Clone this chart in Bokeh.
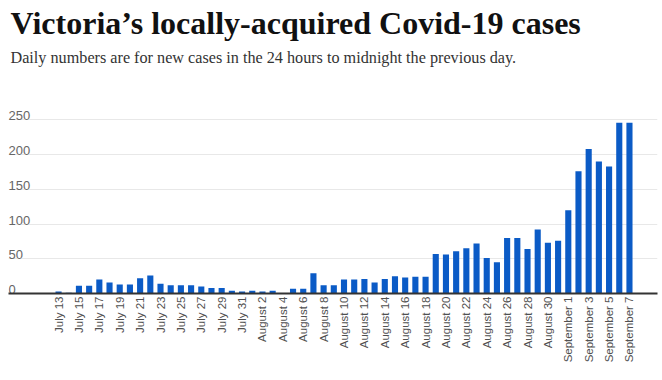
import math
from bokeh.plotting import figure
from bokeh.models import Range1d, Title, FixedTicker, ColumnDataSource
from bokeh.core.properties import value
from bokeh.embed import file_html
from bokeh.resources import INLINE

# ---- data ----
july_days = list(range(13, 32))
aug_days = list(range(1, 32))
sep_days = list(range(1, 8))
date_labels = ([f"July {d}" for d in july_days]
               + [f"August {d}" for d in aug_days]
               + [f"September {d}" for d in sep_days])
july_cases = [3, 1, 11, 11, 20, 16, 13, 13, 22, 26, 14, 12, 12, 12, 10, 8, 8, 4, 3]
aug_cases = [4, 3, 4, 0, 7, 7, 29, 12, 12, 20, 20, 21, 16, 21, 25, 23, 24, 24,
             57, 56, 61, 65, 72, 51, 45, 80, 80, 64, 92, 73, 76]
sep_cases = [120, 176, 208, 190, 183, 246, 246]
cases = july_cases + aug_cases + sep_cases
y_ticks = [0, 50, 100, 150, 200, 250]

idx = list(range(len(cases)))
src = ColumnDataSource(dict(x=idx, cases=cases, label=date_labels))

p = figure(width=662, height=380, output_backend="svg", toolbar_location=None,
           x_range=Range1d(-4.91, 58.75), y_range=Range1d(0, 322.5),
           y_axis_location=None, min_border_left=8, min_border_right=5,
           min_border_top=0, min_border_bottom=87, outline_line_color=None,
           title=None)

p.add_layout(Title(text="Daily numbers are for new cases in the 24 hours to midnight the previous day.",
                   text_font="Liberation Serif", text_font_size="16.2px", text_font_style="normal",
                   text_color="#333333", align="left", offset=2, standoff=5.6), "above")
p.add_layout(Title(text="Victoria\u2019s locally-acquired Covid-19 cases",
                   text_font="Liberation Serif", text_font_size="32px", text_font_style="bold",
                   text_color="#111111", align="left", offset=2, standoff=4.8), "above")

p.vbar(x="x", top="cases", width=0.6, source=src, fill_color="#0b5bc6", line_color=None)

# y grid
p.ygrid.ticker = FixedTicker(ticks=y_ticks[1:])
p.ygrid.grid_line_color = "#e8e8e8"
p.ygrid.grid_line_width = 1
p.xgrid.grid_line_color = None

# y tick labels drawn inside plot above gridlines
ysrc = ColumnDataSource(dict(y=y_ticks, t=[str(v) for v in y_ticks],
                             x=[p.x_range.start] * len(y_ticks)))
p.text(x="x", y="y", text="t", source=ysrc, text_font=value("Liberation Sans"),
       text_font_size="13px", text_color="#666666", text_align="left",
       text_baseline="alphabetic", y_offset=-4)

# x axis
ax = p.xaxis[0]
ax.ticker = FixedTicker(ticks=idx[::2])
ax.major_label_overrides = {i: date_labels[i] for i in idx[::2]}
ax.major_label_orientation = math.pi / 2
ax.major_label_text_font = "Liberation Sans"
ax.major_label_text_font_size = "11.5px"
ax.major_label_text_color = "#505050"
ax.major_label_standoff = 3
ax.major_tick_line_color = None
ax.major_tick_out = 0
ax.major_tick_in = 0
ax.minor_tick_line_color = None
ax.minor_tick_out = 0
ax.axis_line_color = "#333333"
ax.axis_line_width = 2

open("out.html", "w").write(file_html(p, INLINE))
